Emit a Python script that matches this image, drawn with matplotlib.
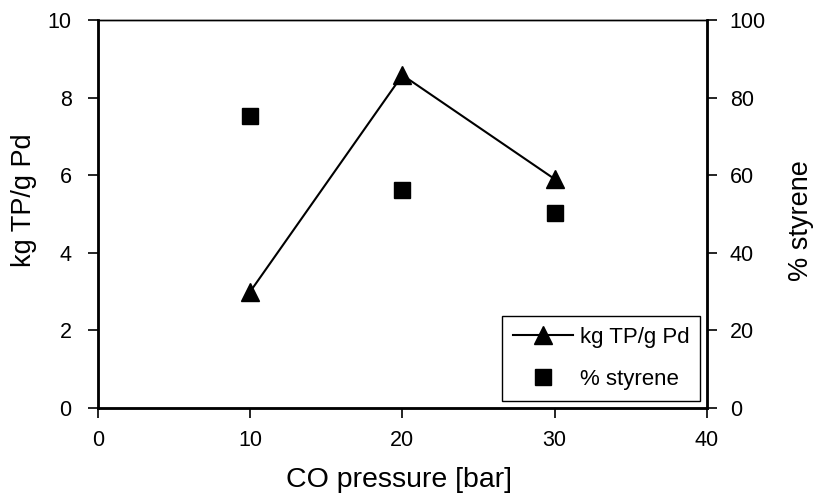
import matplotlib
matplotlib.use("Agg")
import matplotlib.pyplot as plt

plt.rcParams['font.family'] = ['Liberation Sans', 'DejaVu Sans']

# CO pressure runs
pressure = [10, 20, 30]
productivity = [3.0, 8.58, 5.9]   # kg TP/g Pd
styrene = [75.3, 56.2, 50.2]      # % styrene

fig = plt.figure(figsize=(8.13, 4.93), dpi=100)
ax = fig.add_axes([0.1205, 0.1724, 0.749, 0.787])
ax2 = ax.twinx()

l1, = ax.plot(pressure, productivity, color='black', lw=1.5, marker='^',
              markersize=13, label='kg TP/g Pd')
l2, = ax2.plot(pressure, styrene, color='black', lw=0, marker='s',
               markersize=11, label='% styrene')

ax.set_xlim(0, 40)
ax.set_ylim(0, 10)
ax2.set_ylim(0, 100)
ax.set_xticks([0, 10, 20, 30, 40])
ax.set_yticks([0, 2, 4, 6, 8, 10])
ax2.set_yticks([0, 20, 40, 60, 80, 100])

for a in (ax, ax2):
    a.tick_params(direction='out', length=7, width=1.2, labelsize=15.5)
    for s in a.spines.values():
        s.set_linewidth(1.0)
ax.tick_params(axis='x', pad=9)
ax.tick_params(axis='y', pad=12)
ax2.tick_params(axis='y', pad=9.5)
ax.spines['left'].set_linewidth(2)
ax.spines['bottom'].set_linewidth(2)
ax2.spines['right'].set_linewidth(2)

ax.set_xlabel('CO pressure [bar]', fontsize=20.5)
ax.set_ylabel('kg TP/g Pd', fontsize=19.5)
ax2.set_ylabel('% styrene', fontsize=19.5)
ax.xaxis.set_label_coords(0.495, -0.152)
ax.yaxis.set_label_coords(-0.100, 0.536)
ax2.yaxis.set_label_coords(1.133, 0.482)

# legend box sits in the lower right corner of the plot area
leg = ax2.legend([l1, l2], ['kg TP/g Pd', '% styrene'], loc='lower right',
                 fontsize=16, fancybox=False, edgecolor='black',
                 framealpha=1, borderaxespad=0.3, handlelength=2.7,
                 handletextpad=0.3, labelspacing=0.95, borderpad=0.5)
leg.get_frame().set_linewidth(1.0)

fig.savefig('out.png', dpi=100)
